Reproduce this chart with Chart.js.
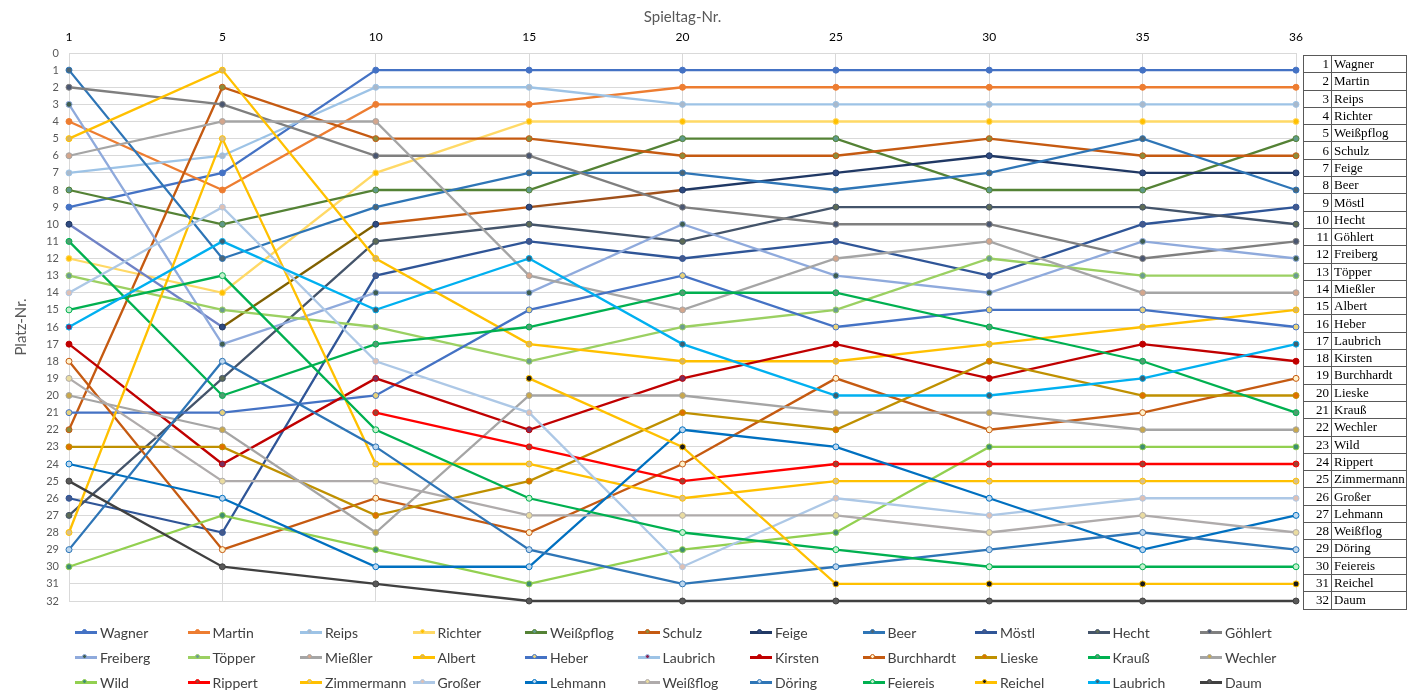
<!DOCTYPE html>
<html>
<head>
<meta charset="utf-8">
<script src="https://cdn.jsdelivr.net/npm/chart.js@4.4.1/dist/chart.umd.min.js"></script>
<style>
  body { margin: 0; background: #fff; width: 1418px; height: 700px; overflow: hidden; position: relative; font-family: Lato, sans-serif; }
  #chart { position: absolute; left: 0; top: 0; }
  #tab { position: absolute; left: 1303px; top: 55px; border-collapse: collapse; font-family: 'Liberation Serif', serif; font-size: 13px; color: #000; table-layout: fixed; width: 104px; }
  #tab tr { height: 17.3px; }
  #tab td { border: 1px solid #595959; padding: 0 1px; line-height: 14px; white-space: nowrap; overflow: hidden; }
  #tab td.nr { width: 24px; text-align: right; padding-right: 2px; }
  #tab td.name { padding-left: 2px; }
  #legend { position: absolute; left: 75px; top: 620px; display: grid; grid-template-columns: repeat(11, 112.5px); grid-auto-rows: 25px; font-size: 14px; color: #404040; }
  .item { display: flex; align-items: center; white-space: nowrap; }
  .sw { position: relative; width: 22px; height: 2.5px; margin-right: 3px; flex: none; }
  .sw i { position: absolute; left: 7px; top: -2.5px; width: 5px; height: 5px; border-radius: 50%; box-sizing: border-box; border: 1px solid; }
</style>
</head>
<body>
<canvas id="chart" width="1418" height="700"></canvas>
<table id="tab"></table>
<div id="legend"></div>
<script>
// Spieltage (x-Achse)
const spieltage = ['1', '5', '10', '15', '20', '25', '30', '35', '36'];

// Platzierungen je Spieler an den Spieltagen
const wagner     = [9, 7, 1, 1, 1, 1, 1, 1, 1];
const martin     = [4, 8, 3, 3, 2, 2, 2, 2, 2];
const reips      = [7, 6, 2, 2, 3, 3, 3, 3, 3];
const richter    = [12, 14, 7, 4, 4, 4, 4, 4, 4];
const weisspflog = [8, 10, 8, 8, 5, 5, 8, 8, 5];
const schulz     = [22, 2, 5, 5, 6, 6, 5, 6, 6];
const feige      = [10, 16, 10, 9, 8, 7, 6, 7, 7];
const beer       = [1, 12, 9, 7, 7, 8, 7, 5, 8];
const moestl     = [26, 28, 13, 11, 12, 11, 13, 10, 9];
const hecht      = [27, 19, 11, 10, 11, 9, 9, 9, 10];
const goehlert   = [2, 3, 6, 6, 9, 10, 10, 12, 11];
const freiberg   = [3, 17, 14, 14, 10, 13, 14, 11, 12];
const toepper    = [13, 15, 16, 18, 16, 15, 12, 13, 13];
const miessler   = [6, 4, 4, 13, 15, 12, 11, 14, 14];
const albert     = [5, 1, 12, 17, 18, 18, 17, 16, 15];
const heber      = [21, 21, 20, 15, 13, 16, 15, 15, 16];
const laubrichA  = [16, null, null, null, null, null, null, null, null];
const kirsten    = [17, 24, 19, 22, 19, 17, 19, 17, 18];
const burchhardt = [18, 29, 26, 28, 24, 19, 22, 21, 19];
const lieske     = [23, 23, 27, 25, 21, 22, 18, 20, 20];
const krauss     = [11, 20, 17, 16, 14, 14, 16, 18, 21];
const wechler    = [20, 22, 28, 20, 20, 21, 21, 22, 22];
const wild       = [30, 27, 29, 31, 29, 28, 23, 23, 23];
const rippert    = [null, null, 21, 23, 25, 24, 24, 24, 24];
const zimmermann = [28, 5, 24, 24, 26, 25, 25, 25, 25];
const grosser    = [14, 9, 18, 21, 30, 26, 27, 26, 26];
const lehmann    = [24, 26, 30, 30, 22, 23, 26, 29, 27];
const weissflog  = [19, 25, 25, 27, 27, 27, 28, 27, 28];
const doering    = [29, 18, 23, 29, 31, 30, 29, 28, 29];
const feiereis   = [15, 13, 22, 26, 28, 29, 30, 30, 30];
const reichel    = [null, null, null, 19, 23, 31, 31, 31, 31];
const laubrich   = [16, 11, 15, 12, 17, 20, 20, 19, 17];
const daum       = [25, 30, 31, 32, 32, 32, 32, 32, 32];

// Abschlusstabelle rechts
const tabelle = ['Wagner', 'Martin', 'Reips', 'Richter', 'Weißpflog', 'Schulz', 'Feige', 'Beer', 'Möstl', 'Hecht',
  'Göhlert', 'Freiberg', 'Töpper', 'Mießler', 'Albert', 'Heber', 'Laubrich', 'Kirsten', 'Burchhardt', 'Lieske',
  'Krauß', 'Wechler', 'Wild', 'Rippert', 'Zimmermann', 'Großer', 'Lehmann', 'Weißflog', 'Döring', 'Feiereis',
  'Reichel', 'Daum'];

// name, werte, linie, marker-füllung
const reihen = [
  ['Wagner', wagner, '#4472C4', '#4472C4'],
  ['Martin', martin, '#ED7D31', '#ED7D31'],
  ['Reips', reips, '#9DC3E6', '#A9B9CB'],
  ['Richter', richter, '#FFD966', '#FFC000'],
  ['Weißpflog', weisspflog, '#548235', '#5F9A8A'],
  ['Schulz', schulz, '#C55A11', '#8C8C3C'],
  ['Feige', feige, '#203864', '#2F4A80'],
  ['Beer', beer, '#2E75B6', '#4D6676'],
  ['Möstl', moestl, '#2F5597', '#44598C'],
  ['Hecht', hecht, '#44546A', '#5D6B55'],
  ['Göhlert', goehlert, '#7F7F7F', '#4A5670'],
  ['Freiberg', freiberg, '#8FAADC', '#3F5E50'],
  ['Töpper', toepper, '#9BD062', '#6C9C90'],
  ['Mießler', miessler, '#A5A5A5', '#D4A68C'],
  ['Albert', albert, '#FFC000', '#D8B65E'],
  ['Heber', heber, '#4472C4', '#E8D27A'],
  ['Laubrich', laubrichA, '#9DC3E6', '#8B2252'],
  ['Kirsten', kirsten, '#C00000', '#C00000'],
  ['Burchhardt', burchhardt, '#C55A11', '#FFF2CC'],
  ['Lieske', lieske, '#BF9000', '#E07000'],
  ['Krauß', krauss, '#00B050', '#4E9E70'],
  ['Wechler', wechler, '#A5A5A5', '#C9A84C'],
  ['Wild', wild, '#92D050', '#3F8E70'],
  ['Rippert', rippert, '#FF0000', '#A04030'],
  ['Zimmermann', zimmermann, '#FFC000', '#D8C08C'],
  ['Großer', grosser, '#ADC8E6', '#DEC0B4'],
  ['Lehmann', lehmann, '#0070C0', '#BDD7EE'],
  ['Weißflog', weissflog, '#AFABAB', '#EADCA0'],
  ['Döring', doering, '#2E75B6', '#BDD7EE'],
  ['Feiereis', feiereis, '#00B050', '#C6EFCE'],
  ['Reichel', reichel, '#FFC000', '#1A1A1A'],
  ['Laubrich', laubrich, '#00B0F0', '#3C5F70'],
  ['Daum', daum, '#404040', '#595959']
];

// einzelne abweichend gefärbte Abschnitte / Marker wie im Original
const feigeSeg = ['#6F82C6', '#806000', '#C55A11', '#A0501A', '#203864', '#203864', '#203864', '#203864'];
const kirstenMk = ['#C00000', '#7B2D5C', '#7B2D5C', '#7B2D5C', '#7B2D5C', '#C00000', '#C00000', '#C00000', '#C00000'];
const laubrichMk = ['#8B2252', '#3C5F70', '#3C5F70', '#3C5F70', '#3C5F70', '#3C5F70', '#3C5F70', '#3C5F70', '#3C5F70'];

const n = reihen.length;
const datasets = reihen.map(([name, werte, linie, mk], i) => {
  const ds = {
    label: name,
    data: werte,
    borderColor: linie,
    backgroundColor: linie,
    borderWidth: 2.3,
    pointRadius: 3,
    pointBorderWidth: 1,
    pointBackgroundColor: mk,
    pointBorderColor: linie,
    tension: 0,
    spanGaps: false,
    clip: 8,
    order: n - i
  };
  if (name === 'Feige') ds.segment = { borderColor: c => feigeSeg[c.p0DataIndex] };
  if (name === 'Kirsten') ds.pointBackgroundColor = kirstenMk;
  if (name === 'Laubrich' && i === 31) ds.pointBackgroundColor = laubrichMk;
  return ds;
});

new Chart(document.getElementById('chart'), {
  type: 'line',
  data: { labels: spieltage, datasets: datasets },
  options: {
    responsive: false,
    animation: false,
    layout: { padding: { left: 8, right: 122, top: 0, bottom: 99 } },
    plugins: { legend: { display: false }, tooltip: { enabled: false } },
    scales: {
      x: {
        position: 'top',
        offset: false,
        grid: { color: '#D9D9D9', drawTicks: false },
        border: { color: '#D9D9D9' },
        ticks: { color: '#000', font: { family: 'Lato', size: 12 }, padding: 9, maxRotation: 0 },
        title: { display: true, text: 'Spieltag-Nr.', color: '#595959', font: { family: 'Lato', size: 15 }, padding: { top: 8, bottom: 0 } },
        afterFit: s => { s.height = 53; }
      },
      y: {
        reverse: true,
        min: 0,
        max: 32,
        grid: { color: '#D9D9D9', drawTicks: false },
        border: { color: '#D9D9D9' },
        ticks: { stepSize: 1, autoSkip: false, color: '#595959', font: { family: 'Lato', size: 11 }, padding: 10 },
        title: { display: true, text: 'Platz-Nr.', color: '#595959', font: { family: 'Lato', size: 15 } },
        afterFit: s => { s.width = 61; }
      }
    }
  }
});

// Tabelle
const tab = document.getElementById('tab');
tabelle.forEach((name, i) => {
  const tr = document.createElement('tr');
  tr.innerHTML = '<td class="nr">' + (i + 1) + '</td><td class="name">' + name + '</td>';
  tab.appendChild(tr);
});

// Legende
const leg = document.getElementById('legend');
reihen.forEach(([name, werte, linie, mk]) => {
  const d = document.createElement('div');
  d.className = 'item';
  d.innerHTML = '<span class="sw" style="background:' + linie + '"><i style="background:' + mk + ';border-color:' + linie + '"></i></span>' + name;
  leg.appendChild(d);
});
</script>
</body>
</html>
